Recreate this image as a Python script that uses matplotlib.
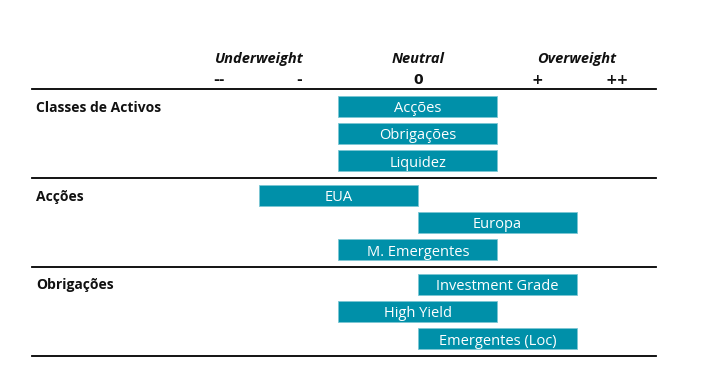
import matplotlib.pyplot as plt
import matplotlib.patches as mpatches

# sections and their rows (position on the scale: -2..+2, 0 = neutral)
sections = ["Classes de Activos", "Acções", "Obrigações"]
row_labels = [
    ["Acções", "Obrigações", "Liquidez"],
    ["EUA", "Europa", "M. Emergentes"],
    ["Investment Grade", "High Yield", "Emergentes (Loc)"],
]
row_values = [
    [0, 0, 0],
    [-1, 1, 0],
    [1, 0, 1],
]
header_labels = ["Underweight", "Neutral", "Overweight"]
header_pos = [-2, 0, 2]
tick_labels = ["--", "-", "0", "+", "++"]
tick_pos = [-2.5, -1.5, 0, 1.5, 2.5]

color = "#0090a9"
font = "Open Sans"

fig = plt.figure(figsize=(7.22, 3.78), dpi=100)
ax = fig.add_axes([0, 0, 1, 1])
# x: one unit = one step on the scale; y: pixel rows from top
unit = 79.5
ax.set_xlim(-418 / unit, (722 - 418) / unit)
ax.set_ylim(378, 0)
ax.axis("off")

line_x0 = (32 - 418) / unit
line_x1 = (656 - 418) / unit
sec_h = 89
top = 89
row_gap = 27.3
bar_h = 21

ax.plot([line_x0, line_x1], [top, top], color="black", lw=1.3)
for i, sec in enumerate(sections):
    y0 = top + i * sec_h
    ax.plot([line_x0, line_x1], [y0 + sec_h, y0 + sec_h], color="black", lw=1.3)
    ax.text((36 - 418) / unit, y0 + 17, sec, fontsize=10, fontweight="bold",
            family=font, va="center_baseline", ha="left", color="#111111")
    for j, (lab, v) in enumerate(zip(row_labels[i], row_values[i])):
        yc = y0 + 17 + j * row_gap
        ax.add_patch(mpatches.Rectangle((v - 1, yc - bar_h / 2), 2, bar_h,
                                        facecolor=color, edgecolor="#7cc6d3", lw=0.6))
        ax.text(v, yc + 0.5, lab, color="white", fontsize=10.5, family=font,
                ha="center", va="center_baseline")

for lab, p in zip(header_labels, header_pos):
    ax.text(p, 59, lab, fontsize=10.5, fontweight="bold", style="italic",
            family=font, ha="center", va="center", color="#111111")
for lab, p in zip(tick_labels, tick_pos):
    ax.text(p, 80, lab, fontsize=10, fontweight="bold", family="DejaVu Sans",
            ha="center", va="center", color="#111111")

fig.savefig("out.png", dpi=100)
